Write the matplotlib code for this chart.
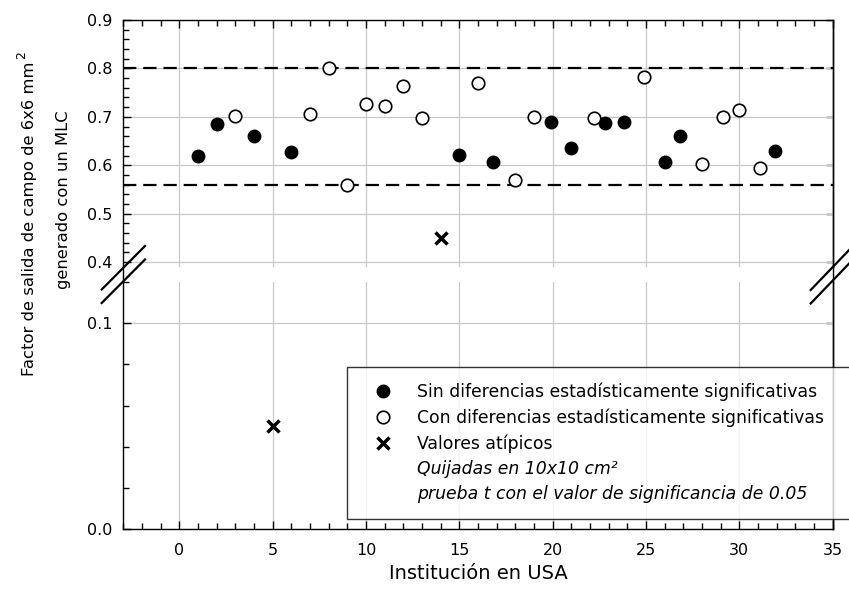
import numpy as np
import matplotlib
matplotlib.use("Agg")
import matplotlib.pyplot as plt
from matplotlib.lines import Line2D
from matplotlib.ticker import MultipleLocator, FormatStrFormatter

plt.rcParams['font.family'] = ['DejaVu Sans']

# datos
sin_x = [1, 2, 4, 6, 15, 16.8, 19.9, 21, 22.8, 23.8, 26, 26.8, 31.9]
sin_y = [0.619, 0.685, 0.660, 0.627, 0.622, 0.607, 0.690, 0.635, 0.687, 0.690, 0.606, 0.660, 0.629]
con_x = [3, 7, 8, 9, 10, 11, 12, 13, 16, 18, 19, 22.2, 24.9, 28, 29.1, 30, 31.1]
con_y = [0.702, 0.706, 0.801, 0.560, 0.726, 0.722, 0.764, 0.698, 0.770, 0.570, 0.700, 0.698, 0.782, 0.602, 0.700, 0.714, 0.595]
out_x = [14, 5]
out_y = [0.449, 0.050]
limites = [0.80, 0.56]

W, H = 849, 603
fig = plt.figure(figsize=(W / 100, H / 100), dpi=100)

def fx(px):
    return px / W

def fy(py):
    return 1 - py / H

left, right = 123.3, 832.7
ax_top = fig.add_axes([fx(left), fy(267), fx(right - left), fy(20) - fy(267)])
ax_bot = fig.add_axes([fx(left), fy(529.3), fx(right - left), fy(282) - fy(529.3)])

for ax in (ax_top, ax_bot):
    ax.set_xlim(-3, 35)
    ax.xaxis.set_major_locator(MultipleLocator(5))
    ax.xaxis.set_minor_locator(MultipleLocator(1))
    ax.yaxis.set_major_formatter(FormatStrFormatter('%.1f'))
    ax.yaxis.set_minor_locator(MultipleLocator(0.02))
    ax.grid(True, which='major', color='#c8c8c8', linewidth=0.9)
    ax.set_axisbelow(True)
    ax.tick_params(which='both', direction='in', top=True, right=False, labelsize=11.5, width=1)
    ax.tick_params(which='major', length=6)
    ax.tick_params(which='minor', length=4)
    ax.tick_params(axis='y', pad=8)
    for s in ax.spines.values():
        s.set_linewidth(1.0)

ax_top.set_ylim(0.39, 0.9)
ax_top.yaxis.set_major_locator(MultipleLocator(0.1))
ax_top.spines['bottom'].set_visible(False)
ax_top.tick_params(which='both', bottom=False, labelbottom=False)

ax_bot.set_ylim(0.0, 0.12)
ax_bot.set_yticks([0.0, 0.1])
ax_bot.spines['top'].set_visible(False)
ax_bot.tick_params(which='both', top=False)
ax_bot.tick_params(axis='x', pad=10)

# marcas a la derecha (solo mayores)
for ax, ticks in ((ax_top, [0.4, 0.5, 0.6, 0.7, 0.8, 0.9]), (ax_bot, [0.1])):
    sec = ax.secondary_yaxis('right')
    sec.set_yticks(ticks)
    sec.tick_params(direction='in', length=5, width=1, labelright=False)
    sec.spines['right'].set_linewidth(1.0)

for y in limites:
    ax_top.axhline(y, color='black', linewidth=1.6, dashes=[6, 3.1], zorder=2)

for ax in (ax_top, ax_bot):
    ax.plot(sin_x, sin_y, 'o', ms=9, color='black', zorder=3)
    ax.plot(con_x, con_y, 'o', ms=9, mfc='white', mec='black', mew=1.2, zorder=3)
    ax.plot(out_x, out_y, 'x', ms=8, color='black', mew=2.5, zorder=3)

# spine continuo en el corte
for px in (left, right):
    fig.add_artist(Line2D([fx(px), fx(px)], [fy(267), fy(282)], color='black', lw=1.0))

# marcas de corte
for dy in (0, 13.5):
    fig.add_artist(Line2D([fx(101.7), fx(145)], [fy(289.5 + dy), fy(246 + dy)], color='black', lw=1.6))
    fig.add_artist(Line2D([fx(810.7), fx(852)], [fy(290 + dy), fy(247 + dy)], color='black', lw=1.6))

ax_bot.set_xlabel('Institución en USA', fontsize=14, labelpad=4)

fig.text(fx(30), fy(219), 'Factor de salida de campo de 6x6 mm', rotation=90,
         ha='center', va='center', fontsize=11.8)
fig.text(fx(22), fy(55), '2', rotation=90, ha='center', va='center', fontsize=9)
fig.text(fx(64), fy(200), 'generado con un MLC', rotation=90,
         ha='center', va='center', fontsize=11.8)

handles = [
    Line2D([], [], marker='o', ls='none', color='black', ms=9),
    Line2D([], [], marker='o', ls='none', mfc='white', mec='black', mew=1.2, ms=9),
    Line2D([], [], marker='x', ls='none', color='black', ms=8, mew=2.5),
    Line2D([], [], ls='none'),
    Line2D([], [], ls='none'),
]
labels = ['Sin diferencias estadísticamente significativas',
          'Con diferencias estadísticamente significativas',
          'Valores atípicos',
          'Quijadas en 10x10 cm²',
          'prueba t con el valor de significancia de 0.05']
leg = ax_bot.legend(handles, labels, loc='upper left',
                    bbox_to_anchor=(fx(347), fy(367), fx(860 - 347), 0.0),
                    bbox_transform=fig.transFigure, mode='expand',
                    fontsize=12.4, frameon=True, fancybox=False, edgecolor='black',
                    borderpad=0.92, handlelength=2.3, handletextpad=0.85,
                    labelspacing=0.42, borderaxespad=0)
leg.get_frame().set_linewidth(1.0)
leg.set_zorder(5)
for t in leg.get_texts()[3:]:
    t.set_style('italic')

fig.savefig('out.png', dpi=100)
